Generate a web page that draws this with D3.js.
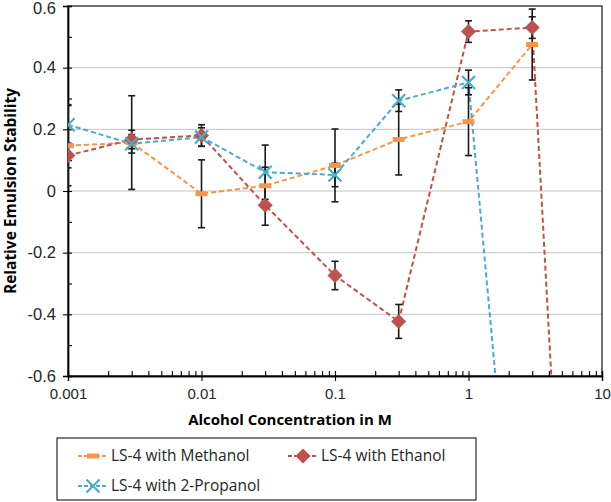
<!DOCTYPE html>
<html><head><meta charset="utf-8">
<script src="https://cdn.jsdelivr.net/npm/d3@7"></script>
<style>
html,body{margin:0;padding:0;background:#fff;}
svg{display:block;font-family:"Open Sans","Noto Sans",sans-serif;}
</style></head>
<body>
<svg id="chart" width="611" height="502"></svg>
<script>
// ---- data ----
const concentrations = [0.001, 0.003, 0.01, 0.03, 0.1, 0.3, 1, 3];
const methanol    = [0.147, 0.157, -0.009, 0.017, 0.083, 0.167, 0.225, 0.475];
const methanolErr = [0.13, 0.152, 0.11, 0.06, 0.118, 0.115, 0.11, 0.115];
const ethanolConc = [0.001, 0.003, 0.01, 0.03, 0.1, 0.3, 1, 3, 10];
const ethanol     = [0.115, 0.167, 0.18, -0.046, -0.274, -0.423, 0.517, 0.53, -3.6];
const ethanolErr  = [0.04, 0.03, 0.035, 0.065, 0.046, 0.055, 0.035, 0.035, 0];
const propanolConc = [0.001, 0.003, 0.01, 0.03, 0.1, 0.3, 1, 3];
const propanol     = [0.215, 0.153, 0.175, 0.061, 0.052, 0.293, 0.352, -1.9];
const propanolErr  = [0.065, 0.03, 0.03, 0.088, 0.038, 0.035, 0.04, 0];
const xTicks = [0.001, 0.01, 0.1, 1, 10];
const xTickLabels = ["0.001", "0.01", "0.1", "1", "10"];
const yTicks = [-0.6, -0.4, -0.2, 0, 0.2, 0.4, 0.6];
const yTickLabels = ["-0.6", "-0.4", "-0.2", "0", "0.2", "0.4", "0.6"];
const seriesNames = ["LS-4 with Methanol", "LS-4 with Ethanol", "LS-4 with 2-Propanol"];

const colors = {m: "#F79646", e: "#C0504D", p: "#4BACC6"};
const svg = d3.select("#chart");
const L = 68, R = 602, T = 6, B = 376;
const x = d3.scaleLog().domain([0.001, 10]).range([L, R]);
const y = d3.scaleLinear().domain([-0.6, 0.6]).range([B, T]);

// gridlines
svg.append("g").selectAll("line").data(yTicks.filter(v => v > -0.6 && v < 0.6)).join("line")
  .attr("x1", L).attr("x2", R).attr("y1", d => y(d)).attr("y2", d => y(d))
  .attr("stroke", "#c4c4c4").attr("stroke-width", 1);

// plot border
svg.append("rect").attr("x", L).attr("y", T).attr("width", R - L).attr("height", B - T)
  .attr("fill", "none").attr("stroke", "#333").attr("stroke-width", 1.4);

// axes
const minorY = d3.range(-0.6, 0.61, 0.1).map(v => +v.toFixed(2));
const minorX = [];
[0.001, 0.01, 0.1, 1].forEach(b => { for (let k = 1; k <= 9; k++) minorX.push(b * k); });
minorX.push(10);

function styleAxis(g) {
  g.select(".domain").attr("stroke", "#000").attr("stroke-width", 1.4);
  g.selectAll(".tick line").attr("stroke", "#000").attr("stroke-width", 1.1);
}
// y axis: inner minor ticks + crossing major ticks
svg.append("g").attr("transform", `translate(${L},0)`)
  .call(d3.axisLeft(y).tickValues(minorY).tickSize(-4).tickFormat(""))
  .call(styleAxis);
svg.append("g").attr("transform", `translate(${L},0)`)
  .call(d3.axisLeft(y).tickValues(yTicks).tickSize(5).tickPadding(7)
    .tickFormat((d, i) => yTickLabels[i]))
  .call(styleAxis)
  .call(g => g.selectAll("text").attr("font-size", 16.5).attr("fill", "#262626")
    .filter(d => d === 0.6).attr("y", 2));
// x axis
svg.append("g").attr("transform", `translate(0,${B})`)
  .call(d3.axisBottom(x).tickValues(minorX).tickSize(-5).tickFormat(""))
  .call(styleAxis);
svg.append("g").attr("transform", `translate(0,${B})`)
  .call(d3.axisBottom(x).tickValues(xTicks).tickSize(5).tickPadding(7)
    .tickFormat((d, i) => xTickLabels[i]))
  .call(styleAxis)
  .call(g => g.selectAll("text").attr("font-size", 15).attr("fill", "#262626"));

// titles
svg.append("text").attr("x", 290).attr("y", 425).attr("text-anchor", "middle")
  .attr("font-size", 15).attr("font-weight", "bold").attr("fill", "#000")
  .text("Alcohol Concentration in M");
svg.append("text").attr("transform", `translate(16,${(T + B) / 2}) rotate(-90)`)
  .attr("text-anchor", "middle").attr("font-size", 15.5).attr("font-weight", "bold").attr("fill", "#000")
  .text("Relative Emulsion Stability");

// clip
svg.append("clipPath").attr("id", "clip").append("rect")
  .attr("x", L).attr("y", T - 8).attr("width", R - L).attr("height", B - T + 8);
const plot = svg.append("g").attr("clip-path", "url(#clip)");

const series = [
  {key: "m", xs: concentrations, ys: methanol, err: methanolErr},
  {key: "e", xs: ethanolConc, ys: ethanol, err: ethanolErr},
  {key: "p", xs: propanolConc, ys: propanol, err: propanolErr}
];
const line = d3.line().x(d => x(d[0])).y(d => y(d[1]));
series.forEach(s => {
  const pts = s.xs.map((c, i) => [c, s.ys[i]]);
  plot.append("path").datum(pts).attr("d", line).attr("fill", "none")
    .attr("stroke", colors[s.key]).attr("stroke-width", 2).attr("stroke-dasharray", "5,3");
});
// error bars
series.forEach(s => {
  const pts = s.xs.map((c, i) => ({c, v: s.ys[i], e: s.err[i]})).filter(d => d.e > 0);
  const g = plot.append("g").attr("stroke", "#1a1a1a").attr("stroke-width", 1.6);
  g.selectAll(".v").data(pts).join("line")
    .attr("x1", d => x(d.c)).attr("x2", d => x(d.c))
    .attr("y1", d => y(d.v - d.e)).attr("y2", d => y(d.v + d.e));
  g.selectAll(".t").data(pts).join("line")
    .attr("x1", d => x(d.c) - 3.5).attr("x2", d => x(d.c) + 3.5)
    .attr("y1", d => y(d.v + d.e)).attr("y2", d => y(d.v + d.e));
  g.selectAll(".b").data(pts).join("line")
    .attr("x1", d => x(d.c) - 3.5).attr("x2", d => x(d.c) + 3.5)
    .attr("y1", d => y(d.v - d.e)).attr("y2", d => y(d.v - d.e));
});
// markers
function marker(g, key, cx, cy) {
  if (key === "m") {
    g.append("rect").attr("x", cx - 6).attr("y", cy - 2.5).attr("width", 12).attr("height", 5)
      .attr("fill", colors.m);
  } else if (key === "e") {
    g.append("path").attr("d", `M${cx},${cy - 7.5}L${cx + 7.5},${cy}L${cx},${cy + 7.5}L${cx - 7.5},${cy}Z`)
      .attr("fill", colors.e);
  } else {
    g.append("path").attr("d", `M${cx - 6.5},${cy - 6.5}L${cx + 6.5},${cy + 6.5}M${cx - 6.5},${cy + 6.5}L${cx + 6.5},${cy - 6.5}`)
      .attr("stroke", colors.p).attr("stroke-width", 2.2).attr("fill", "none");
  }
}
series.forEach(s => {
  s.xs.forEach((c, i) => {
    const v = s.ys[i];
    if (v >= -0.6 && v <= 0.6) marker(plot, s.key, x(c), y(v));
  });
});

// legend
const lg = svg.append("g");
lg.append("rect").attr("x", 57).attr("y", 438).attr("width", 419).attr("height", 62)
  .attr("fill", "#fff").attr("stroke", "#000").attr("stroke-width", 1);
const legendPos = [[78, 456], [288, 456], [78, 486]];
["m", "e", "p"].forEach((k, i) => {
  const [lx, ly] = legendPos[i];
  lg.append("line").attr("x1", lx).attr("x2", lx + 30).attr("y1", ly).attr("y2", ly)
    .attr("stroke", colors[k]).attr("stroke-width", 2).attr("stroke-dasharray", "4,2");
  marker(lg, k, lx + 15, ly);
  lg.append("text").attr("x", lx + 33).attr("y", ly + 5).attr("font-size", 15.5).attr("fill", "#262626")
    .text(seriesNames[i]);
});
</script>
</body></html>
